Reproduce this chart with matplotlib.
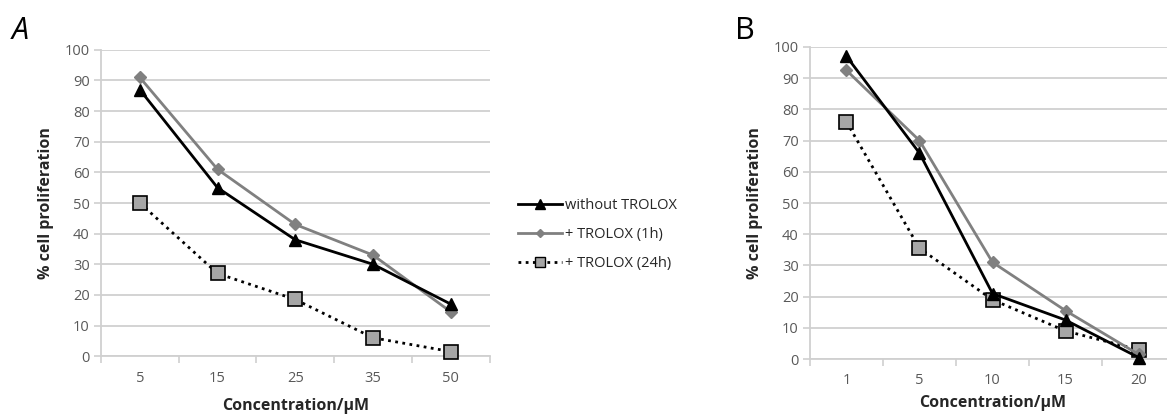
import matplotlib as mpl
mpl.use('Agg')
import matplotlib.pyplot as plt
from matplotlib.lines import Line2D

plt.rcParams['font.family'] = ['Open Sans', 'DejaVu Sans']

conc_a = ['5', '15', '25', '35', '50']
without_a = [87, 55, 38, 30, 17]
trolox1h_a = [91, 61, 43, 33, 14.5]
trolox24h_a = [50, 27, 18.5, 6, 1.5]

conc_b = ['1', '5', '10', '15', '20']
without_b = [97, 66, 21, 12.5, 0.5]
trolox1h_b = [92.5, 70, 31, 15.5, 1.5]
trolox24h_b = [76, 35.5, 19, 9, 3]

labels = ['without TROLOX', '+ TROLOX (1h)', '+ TROLOX (24h)']

GRID = '#d0d0d0'
TICK = '#595959'

styles = [
    dict(color='black', lw=2, ls='-', marker='^', ms=9, mfc='black', mec='black'),
    dict(color='#808080', lw=2, ls='-', marker='D', ms=6, mfc='#808080', mec='#808080'),
    dict(color='black', lw=2, ls=(0, (1, 1.6)), marker='s', ms=10, mfc='#a6a6a6', mec='black', mew=1.2),
]


def draw_panel(ax, cats, series, xpad, xlabelpad):
    x = list(range(len(cats)))
    # dotted series sits underneath the solid ones
    for i in [2, 1, 0]:
        ax.plot(x, series[i], zorder=3 + (2 - i), clip_on=False, **styles[i])
    ax.set_xlim(-0.5, len(cats) - 0.5)
    ax.set_ylim(0, 100)
    ax.set_yticks(range(0, 101, 10))
    ax.set_xticks([i - 0.5 for i in range(len(cats) + 1)])
    ax.set_xticklabels([])
    ax.set_xticks(x, minor=True)
    ax.set_xticklabels(cats, minor=True)
    ax.tick_params(axis='x', which='major', length=5, color=GRID, width=1.2, direction='out')
    ax.tick_params(axis='x', which='minor', length=0, pad=xpad, labelsize=10.5, labelcolor=TICK)
    ax.tick_params(axis='y', length=5, color=GRID, width=1.2, labelsize=10.5, labelcolor=TICK, pad=3)
    ax.grid(axis='y', color=GRID, lw=1.3)
    ax.set_axisbelow(True)
    for s in ['top', 'right']:
        ax.spines[s].set_visible(False)
    for s in ['left', 'bottom']:
        ax.spines[s].set_color(GRID)
        ax.spines[s].set_linewidth(1.3)
    ax.set_ylabel('% cell proliferation', fontsize=11.5, fontweight='bold', color='#262626', labelpad=8)
    ax.set_xlabel('Concentration/\u00b5M', fontsize=11.5, fontweight='bold', color='#262626',
                  labelpad=xlabelpad)


fig = plt.figure(figsize=(11.67, 4.19), dpi=100)
ax_a = fig.add_axes([0.0865, 0.150, 0.333, 0.731])
ax_b = fig.add_axes([0.694, 0.143, 0.313, 0.745])

draw_panel(ax_a, conc_a, [without_a, trolox1h_a, trolox24h_a], 11, 8)
draw_panel(ax_b, conc_b, [without_b, trolox1h_b, trolox24h_b], 10, 5)

handles = [
    Line2D([], [], color='black', lw=2, marker='^', ms=7, mfc='black', mec='black'),
    Line2D([], [], color='#808080', lw=2, marker='D', ms=4.5, mfc='#808080', mec='#808080'),
    Line2D([], [], color='black', lw=2, ls=(0, (1, 1.6)), marker='s', ms=7.5, mfc='#a6a6a6', mec='black'),
]
fig.legend(handles, labels, loc='center left', bbox_to_anchor=(0.433, 0.44),
           frameon=False, fontsize=10.5, handlelength=3.0, handletextpad=0.2,
           labelspacing=0.95, labelcolor='#262626')

fig.text(0.017, 0.925, 'A', fontsize=22, fontstyle='italic', ha='center', va='center')
fig.text(0.638, 0.925, 'B', fontsize=22, ha='center', va='center')

fig.savefig('out.png', dpi=100)
